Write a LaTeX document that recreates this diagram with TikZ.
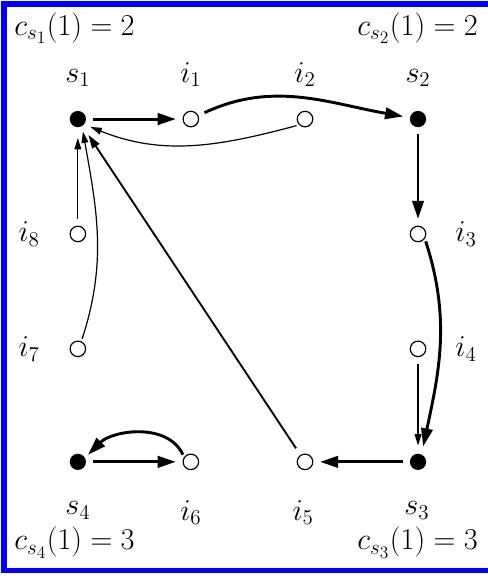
\documentclass[tikz,border=0pt]{standalone}
\usetikzlibrary{arrows.meta}
\definecolor{frame}{RGB}{0,0,255}
\tikzset{
  dot/.style={circle,fill=black,inner sep=0pt,minimum size=4.3mm},
  ring/.style={circle,draw=black,line width=0.9pt,fill=white,inner sep=0pt,minimum size=4.1mm},
  lbl/.style={font=\huge,scale=1.1,inner sep=0pt},
  heavy/.style={-{Triangle[length=4.8mm,width=3mm]},line width=2.2pt,shorten <=5pt,shorten >=5pt},
  medium/.style={-{Triangle[length=3.6mm,width=2.2mm]},line width=1.4pt,shorten <=6pt,shorten >=8pt},
  light/.style={-{Triangle[length=3mm,width=1.8mm]},line width=0.9pt,shorten <=5pt,shorten >=6pt},
}
\begin{document}
\begin{tikzpicture}
  \useasboundingbox (0,0) rectangle (12.91,-15.24);
  % frame (open on the right)
  \draw[frame,line width=4.5pt] (13,-0.106) -- (0.106,-0.106) -- (0.106,-15.09);
  \draw[frame,line width=3.8pt] (0.03,-15.09) -- (13,-15.09);
  % vertices
  \foreach \n/\x/\y/\s in {s1/2.06/-3.15/dot,i1/5.05/-3.15/ring,i2/8.07/-3.15/ring,s2/11.06/-3.15/dot,
    i8/2.06/-6.19/ring,i3/11.06/-6.19/ring,i7/2.06/-9.23/ring,i4/11.06/-9.23/ring,
    s4/2.06/-12.22/dot,i6/5.05/-12.22/ring,i5/8.07/-12.22/ring,s3/11.06/-12.22/dot}
    \node[\s] (\n) at (\x,\y) {};
  % names
  \foreach \n/\x/\y/\t in {s1/2.06/-2.17/{$s_1$},i1/5.05/-2.17/{$i_1$},i2/8.07/-2.17/{$i_2$},s2/11.06/-2.17/{$s_2$},
    s4/2.06/-13.62/{$s_4$},i6/5.05/-13.76/{$i_6$},i5/8.02/-13.76/{$i_5$},s3/11.03/-13.62/{$s_3$}}
    \node[lbl,anchor=base] (t\n) at (\x,\y) {\t};
  \foreach \n/\x/\y/\t in {i8/0.77/-6.19/{$i_8$},i7/0.77/-9.23/{$i_7$},i3/12.33/-6.19/{$i_3$},i4/12.33/-9.23/{$i_4$}}
    \node[lbl] (t\n) at (\x,\y) {\t};
  % counters
  \node[lbl,anchor=base west] (c1) at (0.37,-0.93) {$c_{s_1}(1)=2$};
  \node[lbl,anchor=base east] (c2) at (12.65,-0.93) {$c_{s_2}(1)=2$};
  \node[lbl,anchor=base west] (c4) at (0.37,-14.55) {$c_{s_4}(1)=3$};
  \node[lbl,anchor=base east] (c3) at (12.65,-14.55) {$c_{s_3}(1)=3$};
  % moves
  \draw[heavy] (s1) -- (i1);
  \draw[heavy] (i1) to[out=25,in=170] (s2);
  \draw[light,shorten <=2pt,shorten >=5pt] (i2.225) to[out=195,in=-22] (s1.-40);
  \draw[heavy] (s2) -- (i3);
  \draw[heavy,shorten <=2pt,shorten >=6pt] (i3.-35) to[out=-72,in=78] (s3.65);
  \draw[light] (i4) -- (s3);
  \draw[heavy] (s3) -- (i5);
  \draw[medium] (i5) -- (s1);
  \draw[light,shorten >=8pt] (i8) -- (s1);
  \draw[light,shorten <=2pt,shorten >=4pt] (i7.65) to[out=72,in=-80] (s1.-60);
  \draw[heavy] (s4) -- (i6);
  \draw[heavy,shorten <=2pt,shorten >=3pt] (i6.145) to[out=115,in=45] (s4.30);
\end{tikzpicture}
\end{document}
